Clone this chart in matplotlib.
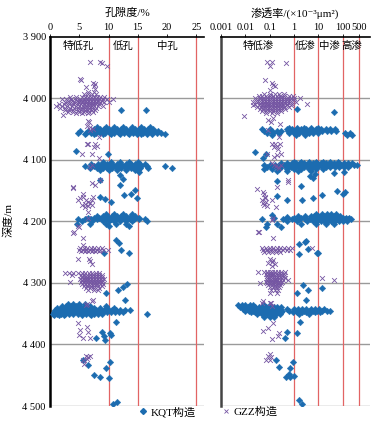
import matplotlib
matplotlib.use("Agg")
import matplotlib.pyplot as plt
from matplotlib.lines import Line2D

plt.rcParams['font.family'] = ['Liberation Serif', 'Noto Sans CJK SC', 'DejaVu Sans']

# ---- data: (depth m, [values]) rows ----
# KQT, porosity %
kqt_por_rows = [
    (4019, [12.1, 16.4]),
    (4047, [8.0, 9.5, 11.0, 12.5, 14.0, 15.5, 17.0]),
    (4050, [7.5, 8.5, 9.2, 10.0, 10.8, 11.5, 12.2, 13.0, 13.8, 14.5, 15.2, 16.0, 16.8, 17.6]),
    (4053, [5.2, 6.5, 7.3, 8.0, 8.7, 9.4, 10.1, 10.8, 11.5, 12.2, 12.9, 13.6, 14.3, 15.0, 15.7, 16.4, 17.1, 17.8, 18.5]),
    (4056, [4.8, 6.2, 7.0, 7.8, 8.6, 9.4, 10.2, 11.0, 11.8, 12.6, 13.4, 14.2, 15.0, 15.8, 16.6, 17.4, 18.2, 19.0]),
    (4059, [6.0, 7.5, 9.0, 10.5, 12.0, 13.5, 14.8, 15.6, 16.5, 17.5, 19.6]),
    (4086, [4.4]), (4090, [9.9]),
    (4104, [9.0, 10.5, 12.0, 13.5, 15.0]),
    (4107, [7.0, 8.2, 9.0, 9.8, 10.6, 11.4, 12.2, 13.0, 13.8, 14.6, 15.4, 16.2]),
    (4110, [6.0, 7.5, 8.5, 9.3, 10.0, 10.7, 11.4, 12.1, 12.8, 13.5, 14.2, 14.9, 15.6, 16.5, 19.6]),
    (4113, [6.8, 8.0, 9.0, 9.8, 10.6, 11.4, 12.2, 13.0, 13.8, 14.6, 15.4, 16.8, 20.9]),
    (4117, [8.5, 10.0, 11.5, 13.0, 14.5, 15.0]),
    (4120, [15.2]), (4125, [11.9]), (4132, [12.4]), (4133, [8.5]), (4141, [11.9]),
    (4149, [14.5]), (4155, [13.9]), (4158, [12.6]), (4160, [8.5]), (4163, [14.8]),
    (4164, [9.4]), (4168, [10.4]),
    (4188, [9.5, 11.0, 12.5, 14.0]),
    (4191, [8.0, 9.0, 9.8, 10.6, 11.4, 12.2, 13.0, 13.8, 14.6]),
    (4194, [6.5, 7.5, 8.3, 9.0, 9.7, 10.4, 11.1, 11.8, 12.5, 13.2, 13.9, 14.6, 15.2]),
    (4197, [4.8, 6.0, 7.0, 8.0, 8.8, 9.6, 10.4, 11.2, 12.0, 12.8, 13.6, 14.4, 15.2, 16.3]),
    (4200, [5.5, 7.2, 9.0, 10.0, 11.0, 12.0, 13.0, 14.0, 16.6]),
    (4204, [4.6, 6.8, 9.5, 11.2, 13.0]),
    (4208, [10.0, 13.5]),
    (4231, [11.3]), (4236, [11.7]), (4246, [12.1]), (4252, [13.5, 9.2]),
    (4302, [13.2]), (4307, [12.5]), (4312, [11.6]), (4316, [9.5]), (4328, [12.8]),
    (4335, [3.0, 4.0, 5.0, 6.0]),
    (4338, [2.0, 2.8, 3.6, 4.4, 5.2, 6.0, 6.8, 9.5]),
    (4341, [1.2, 2.0, 2.8, 3.6, 4.4, 5.2, 6.0, 6.8, 7.5, 8.5, 9.8, 11.0]),
    (4344, [0.8, 1.5, 2.2, 2.9, 3.6, 4.3, 5.0, 5.7, 6.4, 7.1, 7.8, 8.5, 9.2, 9.9, 10.6, 11.3, 12.0, 12.8, 13.6]),
    (4347, [0.6, 1.3, 2.0, 2.7, 3.4, 4.1, 4.8, 5.5, 6.2, 6.9, 7.6, 8.3, 9.0, 9.7, 10.4, 11.1, 11.8, 12.5]),
    (4350, [0.5, 1.2, 1.9, 2.6, 3.3, 4.0, 4.7, 5.4, 6.1, 6.8, 7.5, 8.2, 8.9, 16.5]),
    (4353, [0.6, 1.5, 2.4, 5.5, 7.0]),
    (4363, [11.3]),
    (4380, [8.8]), (4382, [10.2]), (4384, [10.5]), (4386, [9.2]), (4389, [7.9]), (4393, [9.4]),
    (4425, [5.7]), (4429, [10.2]), (4434, [6.5]), (4439, [9.6]), (4449, [7.5]),
    (4453, [8.6]), (4454, [10.1]), (4493, [11.5]), (4496, [10.7]),
]

# GZZ, porosity %
gzz_por_rows = [
    (3941, [6.8, 8.5]), (3943, [8.8]), (3948, [9.8]),
    (3969, [5.1]), (3971, [5.3]), (3976, [7.3]), (3977, [7.7]), (3980, [7.5]), (3982, [6.1]), (3986, [7.7]),
    (3990, [6.5, 7.5]),
    (3994, [5.8, 6.5, 7.2, 7.9]),
    (3998, [3.5, 4.5, 5.5, 6.0, 6.5, 7.0, 7.5, 8.0, 8.6, 9.3]),
    (4001, [2.0, 2.8, 3.6, 4.4, 5.2, 5.8, 6.3, 6.8, 7.3, 7.8, 8.3, 9.0, 9.8, 10.8]),
    (4004, [3.0, 3.8, 4.6, 5.2, 5.7, 6.2, 6.7, 7.2, 7.7, 8.2, 8.8]),
    (4007, [2.5, 3.3, 4.1, 4.8, 5.4, 5.9, 6.4, 6.9, 7.4, 7.9, 8.5, 9.2, 10.0]),
    (4010, [1.5, 2.4, 3.2, 4.0, 4.7, 5.3, 5.8, 6.3, 6.8, 7.3, 7.8, 8.4]),
    (4013, [1.1, 2.0, 2.9, 3.7, 4.4, 5.0, 5.6, 6.1, 6.6, 7.1, 7.6, 8.2, 9.0]),
    (4016, [1.7, 2.6, 3.4, 4.1, 4.8, 5.4, 6.0, 6.6, 7.2, 7.8]),
    (4019, [2.5, 3.3, 4.0, 4.7, 5.3, 5.9, 6.5, 7.1, 7.7]),
    (4022, [3.0, 4.0, 5.0, 5.8, 6.6, 7.4]),
    (4025, [4.5, 5.5, 6.5]),
    (4028, [2.2]),
    (4037, [6.5]), (4039, [6.7]), (4045, [6.3]), (4047, [6.8]), (4050, [7.3]), (4052, [6.8]), (4063, [8.3]),
    (4074, [6.4, 7.7]), (4075, [6.5]), (4078, [8.0]), (4080, [7.5]), (4090, [7.2, 5.4]), (4098, [8.3]),
    (4109, [7.1]), (4112, [6.8]),
    (4133, [8.5]), (4138, [7.1]), (4141, [7.7]), (4145, [3.9]), (4146, [4.0]), (4155, [5.7]),
    (4161, [5.6, 7.3]), (4163, [5.1]), (4165, [6.1, 7.2]), (4166, [4.8]), (4168, [6.5]), (4170, [6.8]),
    (4172, [6.0]), (4174, [5.4, 7.1]), (4175, [6.5]), (4177, [5.9]), (4185, [6.5]), (4194, [6.5]),
    (4207, [4.8]), (4210, [4.9]), (4218, [4.1]), (4219, [4.0]), (4228, [5.6]), (4238, [5.7]),
    (4243, [5.2, 5.8, 6.4, 7.0, 7.6, 8.2, 8.8]),
    (4246, [5.0, 5.6, 6.2, 6.8, 7.4, 8.0, 8.6, 9.1, 9.9]),
    (4249, [5.3, 5.9, 6.5, 7.1, 7.7, 8.3]),
    (4261, [4.8, 6.7]), (4265, [6.8]), (4269, [7.1]),
    (4284, [2.6, 3.3, 4.0, 4.7, 5.4, 6.0, 6.6, 7.2, 7.8, 8.4]),
    (4287, [3.8, 5.3, 5.8, 6.3, 6.8, 7.3, 7.8, 8.3, 8.8]),
    (4290, [5.4, 5.9, 6.4, 6.9, 7.4, 7.9, 8.4, 8.9]),
    (4293, [5.2, 5.7, 6.2, 6.7, 7.2, 7.7, 8.2, 8.7, 9.2]),
    (4296, [5.4, 5.9, 6.4, 6.9, 7.4, 7.9, 8.4, 8.9]),
    (4299, [3.4, 5.3, 5.8, 6.3, 6.8, 7.3, 7.8, 8.3, 8.8]),
    (4302, [5.5, 6.0, 6.5, 7.0, 7.5, 8.0, 8.5, 9.0]),
    (4305, [5.8, 6.4, 7.0, 7.6, 8.2, 8.8]),
    (4308, [6.2, 6.9, 7.6, 8.3]),
    (4312, [6.5, 7.5, 8.2]),
    (4328, [7.3]), (4330, [7.1]), (4334, [6.3]), (4336, [6.2]),
    (4366, [4.7]), (4372, [6.4]), (4377, [5.1]), (4380, [6.5]), (4385, [4.9]), (4390, [5.7, 6.9]),
    (4418, [6.2, 6.8]), (4421, [6.5]), (4423, [6.4]), (4426, [5.7]), (4431, [5.8]),
]

# KQT, permeability 10^-3 um^2
kqt_perm_rows = [
    (4018, [1.3]), (4022, [45]),
    (4048, [0.6, 1.3, 2.5, 5, 10]),
    (4051, [0.05, 0.1, 0.5, 0.8, 1.3, 2, 3.2, 5, 8, 13, 20, 32, 50]),
    (4054, [0.06, 0.13, 0.2, 0.3, 0.55, 0.9, 1.4, 2.2, 3.5, 5.6, 9, 14, 22, 35, 56]),
    (4057, [0.08, 0.14, 0.25, 0.6, 1.0, 1.6, 2.5, 4, 6.3, 10, 125, 200]),
    (4060, [0.12, 1.2, 3, 160, 250]),
    (4088, [0.026]), (4091, [0.07]), (4098, [0.054]),
    (4103, [1, 2, 4, 8, 16, 32, 63]),
    (4106, [0.3, 0.5, 0.8, 1.2, 1.8, 2.7, 4, 6, 9, 13, 20, 30, 45, 70, 110, 170, 250]),
    (4109, [0.06, 0.1, 0.16, 0.25, 0.4, 0.6, 0.9, 1.4, 2.1, 3.2, 4.8, 7.2, 11, 16, 25, 38, 56, 85, 130, 200, 300, 400]),
    (4112, [0.08, 0.13, 0.2, 0.3, 0.5, 0.75, 1.1, 1.7, 2.6, 4, 6, 9, 14, 21, 32, 48, 72, 110, 170]),
    (4115, [0.06, 0.12, 0.25, 0.5, 1, 2, 4, 8, 16]),
    (4118, [0.2, 0.5, 1.5, 5]),
    (4120, [110]), (4121, [45]), (4124, [7.3]), (4127, [4.5]), (4130, [6]), (4135, [0.2]), (4142, [2]),
    (4151, [59]), (4152, [125]), (4155, [100]), (4158, [14]), (4159, [0.2]), (4163, [6]),
    (4165, [0.5]), (4166, [2.1]),
    (4188, [8, 14, 22, 35, 55]),
    (4190, [0.13]), (4193, [0.5]),
    (4191, [1.5, 3, 5, 7, 10, 13, 17, 22, 28, 36, 46, 60, 80]),
    (4194, [0.15, 0.5, 1, 2, 3, 4.5, 6.5, 9, 12, 15, 19, 24, 30, 38, 48, 62, 80, 105, 140, 190]),
    (4197, [0.05, 0.35, 0.8, 1.6, 2.8, 4.5, 7, 10, 13, 17, 22, 28, 36, 46, 60, 78, 100, 130, 170, 230]),
    (4200, [0.5, 1.3, 3.5, 6, 9, 13, 18, 25, 35, 50, 70, 100, 150]),
    (4204, [0.08, 0.2, 2, 8, 20, 45]),
    (4209, [0.07, 0.3]),
    (4232, [3.1]), (4234, [2.8]), (4237, [1.6]), (4245, [3.8]), (4252, [9, 9.8]), (4253, [1.6]),
    (4304, [2.3]), (4309, [14]), (4311, [3.8]), (4316, [1.3]), (4328, [3.1]),
    (4336, [0.005, 0.007, 0.01, 0.015, 0.02, 0.06, 0.1]),
    (4339, [0.006, 0.009, 0.013, 0.018, 0.025, 0.035, 0.05, 0.07, 0.1, 0.15, 0.2, 0.3]),
    (4342, [0.008, 0.012, 0.017, 0.024, 0.034, 0.048, 0.068, 0.1, 0.14, 0.2, 0.28, 0.5, 1, 1.5, 2.2, 3.3, 5, 7.5, 11, 17]),
    (4345, [0.01, 0.014, 0.02, 0.028, 0.04, 0.056, 0.08, 0.11, 0.16, 0.22, 0.32, 0.6, 1.2, 1.8, 2.7, 4, 6, 9, 14, 22, 30]),
    (4348, [0.018, 0.026, 0.037, 0.052, 0.074, 0.1, 0.15, 0.21, 0.3, 0.9, 1.4, 2.1, 3.2, 4.8, 7.2, 12]),
    (4351, [0.03, 0.05, 0.08, 0.12, 0.18, 0.26, 1.6, 4]),
    (4355, [0.06, 0.1, 0.15]),
    (4364, [1.8]), (4380, [0.5]), (4382, [1.4]), (4389, [0.43]),
    (4425, [0.18]), (4429, [0.9]), (4436, [0.24]), (4439, [0.7]), (4448, [0.6]),
    (4451, [1.0]), (4453, [0.47, 0.7]), (4491, [1.6]), (4496, [2.1]),
]

# GZZ, permeability 10^-3 um^2
gzz_perm_rows = [
    (3941, [0.08, 0.125]), (3943, [0.47]), (3948, [0.1]),
    (3971, [0.065]), (3976, [0.12]), (3979, [0.14]), (3981, [0.16]), (3987, [0.1]),
    (3994, [0.06, 0.1, 0.16, 0.25, 0.4]),
    (3997, [0.035, 0.05, 0.07, 0.1, 0.14, 0.2, 0.28, 0.4, 0.6, 0.9]),
    (4000, [0.025, 0.04, 0.055, 0.075, 0.1, 0.13, 0.17, 0.22, 0.3, 0.4, 0.55, 0.75, 1.0, 1.8]),
    (4003, [0.03, 0.045, 0.06, 0.08, 0.1, 0.13, 0.17, 0.22, 0.29, 0.38, 0.5, 0.7, 1.0]),
    (4006, [0.02, 0.03, 0.045, 0.06, 0.08, 0.1, 0.13, 0.17, 0.22, 0.29, 0.38, 0.5, 0.7, 1.2]),
    (4009, [0.025, 0.04, 0.055, 0.07, 0.09, 0.12, 0.16, 0.21, 0.28, 0.37, 0.5, 0.8, 3.4]),
    (4012, [0.02, 0.035, 0.05, 0.065, 0.085, 0.11, 0.15, 0.2, 0.27, 0.36, 0.5, 0.75]),
    (4015, [0.03, 0.045, 0.06, 0.08, 0.1, 0.13, 0.17, 0.22, 0.29, 0.4, 0.6]),
    (4018, [0.04, 0.055, 0.075, 0.1, 0.13, 0.17, 0.22, 0.3, 0.45]),
    (4021, [0.05, 0.07, 0.1, 0.14, 0.2, 0.3]),
    (4024, [0.07, 0.12, 0.2]),
    (4029, [0.009]),
    (4033, [0.14]), (4036, [0.085]), (4039, [0.11]), (4042, [0.26]), (4052, [0.085]), (4063, [0.24]),
    (4074, [0.17]), (4075, [0.13, 0.26]), (4077, [0.2]), (4079, [0.15]), (4082, [0.22]),
    (4090, [0.08, 0.3]), (4093, [0.2]), (4095, [0.15]),
    (4106, [0.12]), (4108, [0.15]), (4109, [0.3]), (4110, [0.18]), (4112, [0.22]), (4114, [0.25]),
    (4133, [0.56]), (4136, [0.56]), (4145, [0.2]), (4147, [0.03]), (4153, [0.052]), (4156, [0.06]),
    (4160, [0.065]), (4163, [0.065]), (4165, [0.12]), (4166, [0.05]), (4168, [0.07]), (4171, [0.054]),
    (4173, [0.06]), (4176, [0.08]), (4177, [0.18]), (4195, [0.14]), (4198, [0.125]),
    (4217, [0.036]), (4218, [0.033]), (4228, [0.14]),
    (4244, [0.05, 0.07, 0.1, 0.14, 0.2, 0.28, 0.4, 0.55, 0.8, 5.5]),
    (4247, [0.055, 0.075, 0.1, 0.13, 0.18, 0.25, 0.35, 0.5, 0.7]),
    (4250, [0.06, 0.09, 0.13, 0.19, 0.27]),
    (4261, [0.1]), (4263, [0.14]), (4266, [0.12]), (4268, [0.09]), (4270, [0.16]), (4272, [0.13]),
    (4283, [0.033, 0.06, 0.08, 0.1, 0.13, 0.17, 0.22, 0.3, 0.45]),
    (4286, [0.07, 0.09, 0.11, 0.14, 0.18, 0.23, 0.3, 0.4]),
    (4289, [0.08, 0.1, 0.12, 0.15, 0.19, 0.24, 0.31, 0.4]),
    (4292, [0.075, 0.095, 0.12, 0.15, 0.19, 0.24, 0.31, 0.42, 15]),
    (4295, [0.08, 0.1, 0.125, 0.16, 0.2, 0.26, 0.34, 0.56, 45]),
    (4298, [0.07, 0.09, 0.115, 0.145, 0.19, 0.25, 0.33]),
    (4301, [0.04, 0.08, 0.1, 0.13, 0.17, 0.22, 0.3]),
    (4304, [0.09, 0.12, 0.16, 0.21, 0.28]),
    (4307, [0.1, 0.14, 0.19, 0.25]),
    (4311, [0.11, 0.16, 0.22]),
    (4316, [0.1, 0.2]),
    (4330, [0.052]), (4333, [0.048, 0.1, 0.11]), (4337, [0.13]),
    (4366, [0.14]), (4373, [0.085]), (4379, [0.052]), (4381, [0.24]), (4387, [0.22]), (4392, [0.13]),
    (4415, [0.1]), (4418, [0.085]), (4421, [0.11]), (4425, [0.1]), (4426, [0.07]),
]

depth_ticks = [3900, 4000, 4100, 4200, 4300, 4400, 4500]
depth_labels = ['3 900', '4 000', '4 100', '4 200', '4 300', '4 400', '4 500']
por_ticks = [0, 5, 10, 15, 20, 25]
por_cutoffs = [10, 15, 25]
por_classes = ['特低孔', '低孔', '中孔']
por_class_x = [4.8, 12.5, 20]
perm_ticks = [0.001, 0.01, 0.1, 1, 10, 100, 500]
perm_labels = ['0.001', '0.01', '0.1', '1', '10', '100', '500']
perm_cutoffs = [1, 10, 100, 500]
perm_classes = ['特低渗', '低渗', '中渗', '高渗']
perm_class_x = [0.033, 2.8, 30, 245]


def expand(rows):
    d, v = [], []
    for depth, vals in rows:
        d += [depth] * len(vals)
        v += vals
    return d, v


blue = '#1c6cb0'
purple = '#7556a3'
red = '#e26464'

fig = plt.figure(figsize=(3.75, 4.3), dpi=100)
ax1 = fig.add_axes([0.1333, 0.0558, 0.4107, 0.8593])
ax2 = fig.add_axes([0.5893, 0.0558, 0.3973, 0.8593])


def style(ax):
    ax.set_ylim(4500, 3900)
    for y in depth_ticks[1:]:
        ax.axhline(y, color='#9a9a9a', lw=1.0, zorder=1)
    ax.spines['right'].set_visible(False)
    ax.spines['bottom'].set_visible(False)
    ax.spines['top'].set_linewidth(1.2)
    ax.spines['left'].set_linewidth(1.8)
    ax.xaxis.tick_top()
    ax.tick_params(axis='x', direction='out', length=2, width=0.6, pad=1, labelsize=7.5)
    ax.tick_params(axis='y', direction='in', length=0, pad=3, labelsize=7.5)
    ax.set_yticks(depth_ticks)


# porosity panel
style(ax1)
ax1.set_xlim(0, 26.3)
ax1.set_xticks(por_ticks)
ax1.set_yticklabels(depth_labels)
for c in por_cutoffs:
    ax1.axvline(c, color=red, lw=0.9, zorder=1)
d, v = expand(kqt_por_rows)
ax1.scatter(v, d, marker='D', s=11, color=blue, linewidths=0.3, zorder=3)
d, v = expand(gzz_por_rows)
ax1.scatter(v, d, marker='x', s=12, color=purple, linewidths=0.6, zorder=4)
for name, x in zip(por_classes, por_class_x):
    ax1.text(x, 3915, name, ha='center', va='center', fontsize=7.5)

# permeability panel
style(ax2)
ax2.spines['left'].set_color('#444444')
ax2.set_xscale('log')
ax2.set_xlim(0.001, 1350)
ax2.set_xticks(perm_ticks)
ax2.set_xticklabels(perm_labels)
ax2.minorticks_off()
ax2.set_yticklabels([])
for c in perm_cutoffs:
    ax2.axvline(c, color=red, lw=0.9, zorder=1)
d, v = expand(kqt_perm_rows)
ax2.scatter(v, d, marker='D', s=11, color=blue, linewidths=0.3, zorder=3)
d, v = expand(gzz_perm_rows)
ax2.scatter(v, d, marker='x', s=12, color=purple, linewidths=0.6, zorder=4)
for name, x in zip(perm_classes, perm_class_x):
    ax2.text(x, 3915, name, ha='center', va='center', fontsize=7.5)

fig.text(127 / 375, 1 - 13 / 430, '孔隙度/%', ha='center', va='center', fontsize=8)
fig.text(295 / 375, 1 - 13 / 430, '渗透率/(×10⁻³μm²)', ha='center', va='center', fontsize=8)
fig.text(8 / 375, 1 - 220 / 430, '深度/m', rotation=90, ha='center', va='center', fontsize=8)

handles = [
    Line2D([], [], marker='D', ls='', color=blue, markersize=3),
    Line2D([], [], marker='x', ls='', color=purple, markersize=3.5, markeredgewidth=0.6),
]
fig.legend(handles, ['KQT构造', 'GZZ构造'], loc='center', bbox_to_anchor=(0.553, 0.042),
           ncol=2, frameon=False, fontsize=8, handletextpad=0.2, columnspacing=2.2, handlelength=1)

fig.savefig('out.png', dpi=100)
